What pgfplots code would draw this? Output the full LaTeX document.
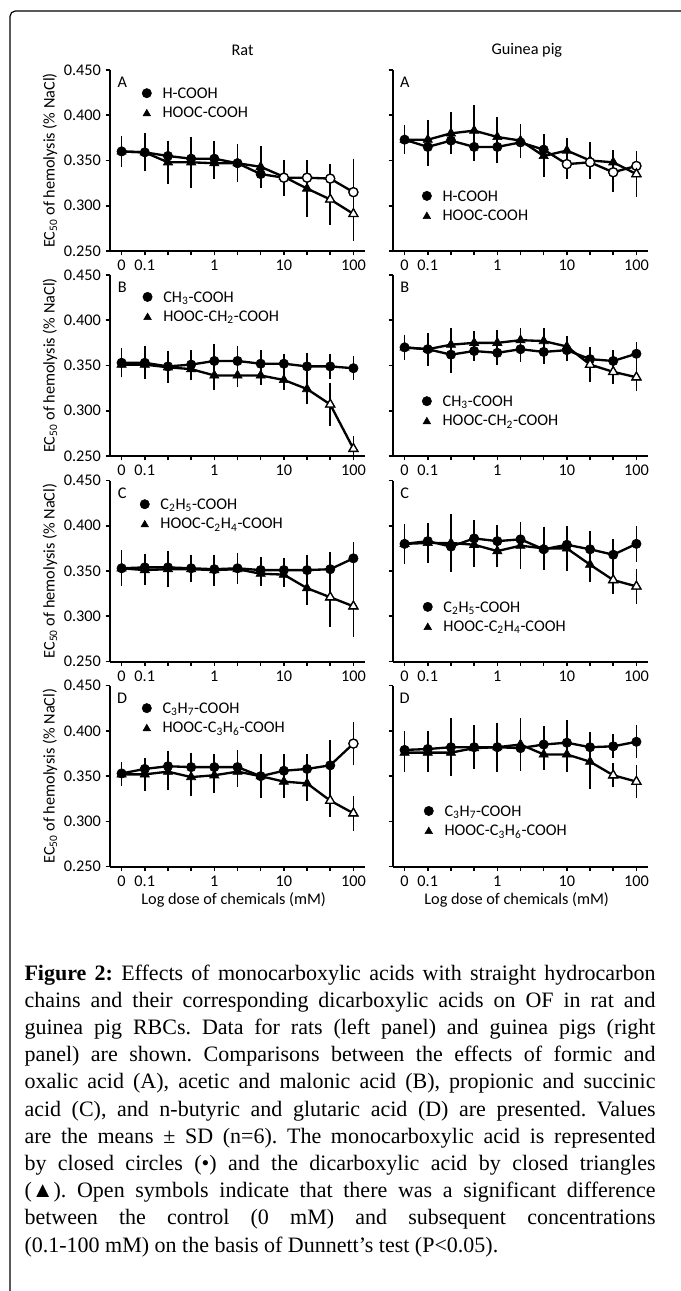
\documentclass[border=0pt]{standalone}
\usepackage{fontspec}
\setmainfont{Carlito}
\newfontfamily\capfont{Liberation Serif}
\usepackage{pgfplots}
\pgfplotsset{compat=1.18}
\usepackage{pgfplotstable}

\newcommand\fsz{\fontsize{12.2pt}{14.6pt}\selectfont}

\pgfplotsset{
  legend image code/.code={\draw[#1] plot coordinates {(0pt,0.7pt)};},
}
\pgfplotsset{
  panel/.style={
    scale only axis, width=191.25pt, height=135.75pt,
    anchor=south west,
    xmin=-0.5, xmax=10.5, ymin=0.25, ymax=0.45,
    axis x line*=bottom, axis y line*=left,
    axis line style={line width=1.5pt, black},
    tick style={line width=1.2pt, black},
    tick align=outside, major tick length=3.3pt,
    xtick={0,...,10}, xticklabels={0,0.1,,,1,,,10,,,100},
    ytick={0.25,0.3,0.35,0.4,0.45},
    /pgf/number format/assume math mode=true,
    yticklabel style={/pgf/number format/fixed, /pgf/number format/fixed zerofill, /pgf/number format/precision=3},
    tick label style={font=\fsz},
    label style={font=\fsz},
    title style={font=\fsz, anchor=center},
    ylabel={EC\textsubscript{50} of hemolysis (\% NaCl)},
    ylabel style={at={(axis description cs:-0.235,0.5)}, anchor=center},
    xlabel style={at={(axis description cs:0.485,-0.184)}, anchor=center},
    legend cell align=left,
    legend style={draw=none, fill=none, anchor=north west, inner sep=0pt, outer sep=0pt,
      font=\fsz, row sep=4.2pt,
      nodes={inner sep=0pt, text height=8.4pt, text depth=2pt},
      /tikz/every odd column/.append style={column sep=8.3pt}},
  },
  gp/.style={yticklabels={}, ylabel={}},
  ebar/.style={error bars/.cd, y dir=both, y explicit,
    error bar style={line width=1.25pt, black},
    error mark options={line width=1.25pt, mark size=2.75pt, black}},
  mono/.style={forget plot, black, line width=1.75pt, mark=*, mark size=3.5pt,
    mark options={solid, fill=black, line width=0.5pt}, ebar},
  di/.style={forget plot, black, line width=1.75pt, mark=triangle*, mark size=4pt,
    mark options={solid, fill=black, line width=0.5pt}, ebar},
  openc/.style={forget plot, only marks, mark=*, mark size=3.4pt,
    mark options={fill=white, draw=black, line width=1pt}},
  opent/.style={forget plot, only marks, mark=triangle*, mark size=3.9pt,
    mark options={fill=white, draw=black, line width=1pt}},
  legc/.style={black, mark=*, mark size=3.5pt},
  legt/.style={black, mark=triangle*, mark size=3.3pt, yshift=-0.8pt},
}

\begin{document}

% x: 0 = control, 1..10 = 0.1 ... 100 mM (third-decade steps)
\pgfplotstableread{
x m me d de
0 0.360 0.013 0.360 0.009
1 0.359 0.017 0.359 0.005
2 0.355 0.011 0.348 0.020
3 0.352 0.010 0.348 0.024
4 0.352 0.016 0.347 0.013
5 0.347 0.017 0.347 0.005
6 0.335 0.008 0.343 0.019
7 0.331 0.016 0.332 0.010
8 0.331 0.015 0.319 0.027
9 0.330 0.012 0.307 0.024
10 0.315 0.033 0.291 0.026
}\ratA
\pgfplotstableread{
x m me d de
0 0.353 0.012 0.351 0.010
1 0.353 0.014 0.351 0.006
2 0.349 0.013 0.348 0.013
3 0.351 0.012 0.346 0.008
4 0.355 0.015 0.339 0.012
5 0.355 0.013 0.339 0.009
6 0.352 0.011 0.339 0.006
7 0.352 0.007 0.334 0.007
8 0.349 0.011 0.324 0.013
9 0.349 0.010 0.307 0.020
10 0.347 0.009 0.258 0.010
}\ratB
\pgfplotstableread{
x m me d de
0 0.353 0.016 0.353 0.011
1 0.354 0.011 0.351 0.012
2 0.354 0.009 0.352 0.016
3 0.353 0.011 0.352 0.006
4 0.352 0.012 0.351 0.013
5 0.353 0.013 0.352 0.012
6 0.351 0.010 0.347 0.010
7 0.351 0.009 0.346 0.010
8 0.351 0.013 0.331 0.014
9 0.352 0.015 0.321 0.029
10 0.364 0.014 0.311 0.030
}\ratC
\pgfplotstableread{
x m me d de
0 0.353 0.009 0.352 0.009
1 0.358 0.006 0.352 0.014
2 0.361 0.013 0.355 0.016
3 0.360 0.012 0.349 0.017
4 0.360 0.010 0.351 0.016
5 0.360 0.015 0.355 0.013
6 0.350 0.012 0.350 0.020
7 0.356 0.014 0.344 0.014
8 0.358 0.012 0.342 0.015
9 0.362 0.024 0.323 0.014
10 0.386 0.020 0.309 0.015
}\ratD
\pgfplotstableread{
x m me d de
0 0.373 0.012 0.373 0.010
1 0.365 0.017 0.373 0.018
2 0.372 0.011 0.380 0.019
3 0.365 0.012 0.383 0.024
4 0.365 0.014 0.376 0.018
5 0.370 0.013 0.372 0.014
6 0.362 0.013 0.355 0.019
7 0.346 0.012 0.361 0.010
8 0.348 0.011 0.350 0.016
9 0.337 0.018 0.348 0.009
10 0.344 0.010 0.335 0.021
}\gpA
\pgfplotstableread{
x m me d de
0 0.370 0.010 0.370 0.010
1 0.368 0.012 0.368 0.014
2 0.362 0.016 0.373 0.014
3 0.366 0.007 0.375 0.009
4 0.364 0.009 0.375 0.010
5 0.368 0.010 0.378 0.009
6 0.365 0.009 0.377 0.010
7 0.367 0.008 0.371 0.007
8 0.357 0.007 0.351 0.015
9 0.355 0.008 0.343 0.009
10 0.363 0.009 0.337 0.011
}\gpB
\pgfplotstableread{
x m me d de
0 0.380 0.012 0.380 0.018
1 0.383 0.011 0.381 0.018
2 0.377 0.012 0.381 0.028
3 0.386 0.016 0.379 0.020
4 0.383 0.014 0.372 0.014
5 0.385 0.012 0.378 0.022
6 0.374 0.013 0.375 0.020
7 0.379 0.013 0.375 0.021
8 0.374 0.016 0.357 0.015
9 0.368 0.013 0.340 0.011
10 0.380 0.016 0.333 0.015
}\gpC
\pgfplotstableread{
x m me d de
0 0.379 0.017 0.376 0.017
1 0.380 0.016 0.376 0.017
2 0.382 0.028 0.376 0.007
3 0.382 0.020 0.381 0.012
4 0.382 0.023 0.382 0.014
5 0.381 0.021 0.385 0.025
6 0.385 0.016 0.374 0.013
7 0.387 0.021 0.374 0.015
8 0.382 0.013 0.366 0.026
9 0.383 0.009 0.351 0.009
10 0.388 0.014 0.344 0.014
}\gpD

\begin{tikzpicture}
\useasboundingbox (0,0) rectangle (510.75pt,-968.25pt);
\draw[line width=0.9pt, rounded corners=4pt] (7.5pt,-990pt) -- (7.5pt,-8.25pt) -- (530pt,-8.25pt);

% ---------- Rat ----------
\begin{axis}[panel, at={(82.5pt,-188.25pt)}, title={Rat},
  title style={at={(axis description cs:0.52,1.066)}},
  legend style={at={(0.126,0.905)}}]
\addplot[mono] table[x=x,y=m,y error=me]{\ratA};
\addplot[di] table[x=x,y=d,y error=de]{\ratA};
\addplot[openc, restrict x to domain=6.5:10.5] table[x=x,y=m]{\ratA};
\addplot[opent, restrict x to domain=8.5:10.5] table[x=x,y=d]{\ratA};
\addlegendimage{legc}\addlegendentry{H-COOH}
\addlegendimage{legt}\addlegendentry{HOOC-COOH}
\node[font=\fsz] at (axis description cs:0.048,0.93) {A};
\end{axis}

\begin{axis}[panel, at={(82.5pt,-342pt)},
  legend style={at={(0.129,0.912)}}]
\addplot[mono] table[x=x,y=m,y error=me]{\ratB};
\addplot[di] table[x=x,y=d,y error=de]{\ratB};
\addplot[opent, restrict x to domain=8.5:10.5] table[x=x,y=d]{\ratB};
\addlegendimage{legc}\addlegendentry{CH\textsubscript{3}-COOH}
\addlegendimage{legt}\addlegendentry{HOOC-CH\textsubscript{2}-COOH}
\node[font=\fsz] at (axis description cs:0.048,0.93) {B};
\end{axis}

\begin{axis}[panel, at={(82.5pt,-496.125pt)},
  legend style={at={(0.118,0.902)}}]
\addplot[mono] table[x=x,y=m,y error=me]{\ratC};
\addplot[di] table[x=x,y=d,y error=de]{\ratC};
\addplot[opent, restrict x to domain=8.5:10.5] table[x=x,y=d]{\ratC};
\addlegendimage{legc}\addlegendentry{C\textsubscript{2}H\textsubscript{5}-COOH}
\addlegendimage{legt}\addlegendentry{HOOC-C\textsubscript{2}H\textsubscript{4}-COOH}
\node[font=\fsz] at (axis description cs:0.048,0.93) {C};
\end{axis}

\begin{axis}[panel, at={(82.5pt,-650pt)}, xlabel={Log dose of chemicals (mM)},
  legend style={at={(0.126,0.909)}}]
\addplot[mono] table[x=x,y=m,y error=me]{\ratD};
\addplot[di] table[x=x,y=d,y error=de]{\ratD};
\addplot[openc, restrict x to domain=9.5:10.5] table[x=x,y=m]{\ratD};
\addplot[opent, restrict x to domain=8.5:10.5] table[x=x,y=d]{\ratD};
\addlegendimage{legc}\addlegendentry{C\textsubscript{3}H\textsubscript{7}-COOH}
\addlegendimage{legt}\addlegendentry{HOOC-C\textsubscript{3}H\textsubscript{6}-COOH}
\node[font=\fsz] at (axis description cs:0.048,0.93) {D};
\end{axis}

% ---------- Guinea pig ----------
\begin{axis}[panel, gp, at={(294.75pt,-188.25pt)}, title={Guinea pig},
  title style={at={(axis description cs:0.525,1.066)}},
  legend style={at={(0.1145,0.3376)}}]
\addplot[mono] table[x=x,y=m,y error=me]{\gpA};
\addplot[di] table[x=x,y=d,y error=de]{\gpA};
\addplot[openc, restrict x to domain=6.5:10.5] table[x=x,y=m]{\gpA};
\addplot[opent, restrict x to domain=9.5:10.5] table[x=x,y=d]{\gpA};
\addlegendimage{legc}\addlegendentry{H-COOH}
\addlegendimage{legt}\addlegendentry{HOOC-COOH}
\node[font=\fsz] at (axis description cs:0.046,0.93) {A};
\end{axis}

\begin{axis}[panel, gp, at={(294.75pt,-342pt)},
  legend style={at={(0.1145,0.336)}}]
\addplot[mono] table[x=x,y=m,y error=me]{\gpB};
\addplot[di] table[x=x,y=d,y error=de]{\gpB};
\addplot[opent, restrict x to domain=7.5:10.5] table[x=x,y=d]{\gpB};
\addlegendimage{legc}\addlegendentry{CH\textsubscript{3}-COOH}
\addlegendimage{legt}\addlegendentry{HOOC-CH\textsubscript{2}-COOH}
\node[font=\fsz] at (axis description cs:0.046,0.93) {B};
\end{axis}

\begin{axis}[panel, gp, at={(294.75pt,-496.125pt)},
  legend style={at={(0.118,0.335)}}]
\addplot[mono] table[x=x,y=m,y error=me]{\gpC};
\addplot[di] table[x=x,y=d,y error=de]{\gpC};
\addplot[opent, restrict x to domain=8.5:10.5] table[x=x,y=d]{\gpC};
\addlegendimage{legc}\addlegendentry{C\textsubscript{2}H\textsubscript{5}-COOH}
\addlegendimage{legt}\addlegendentry{HOOC-C\textsubscript{2}H\textsubscript{4}-COOH}
\node[font=\fsz] at (axis description cs:0.046,0.93) {C};
\end{axis}

\begin{axis}[panel, gp, at={(294.75pt,-650pt)}, xlabel={Log dose of chemicals (mM)},
  legend style={at={(0.122,0.341)}}]
\addplot[mono] table[x=x,y=m,y error=me]{\gpD};
\addplot[di] table[x=x,y=d,y error=de]{\gpD};
\addplot[opent, restrict x to domain=8.5:10.5] table[x=x,y=d]{\gpD};
\addlegendimage{legc}\addlegendentry{C\textsubscript{3}H\textsubscript{7}-COOH}
\addlegendimage{legt}\addlegendentry{HOOC-C\textsubscript{3}H\textsubscript{6}-COOH}
\node[font=\fsz] at (axis description cs:0.046,0.93) {D};
\end{axis}

% ---------- caption ----------
\node[anchor=base west, inner sep=0pt, text width=473.25pt, align=justify,
  font=\capfont\fontsize{16.5pt}{20.4pt}\selectfont]
  at (18.2pt,-735pt) {\frenchspacing\hyphenpenalty=10000 \exhyphenpenalty=10000
\textbf{Figure 2:} Effects of monocarboxylic acids with straight hydrocarbon\linebreak
chains and their corresponding dicarboxylic acids on OF in rat and\linebreak
guinea pig RBCs. Data for rats (left panel) and guinea pigs (right\linebreak
panel) are shown. Comparisons between the effects of formic and\linebreak
oxalic acid (A), acetic and malonic acid (B), propionic and succinic\linebreak
acid (C), and n-butyric and glutaric acid (D) are presented. Values\linebreak
are the means ± SD (n=6). The monocarboxylic acid is represented\linebreak
by closed circles (•) and the dicarboxylic acid by closed triangles\linebreak
(▲). Open symbols indicate that there was a significant difference\linebreak
between the control (0 mM) and subsequent concentrations\linebreak
(0.1-100 mM) on the basis of Dunnett’s test (P<0.05).};
\end{tikzpicture}
\end{document}
